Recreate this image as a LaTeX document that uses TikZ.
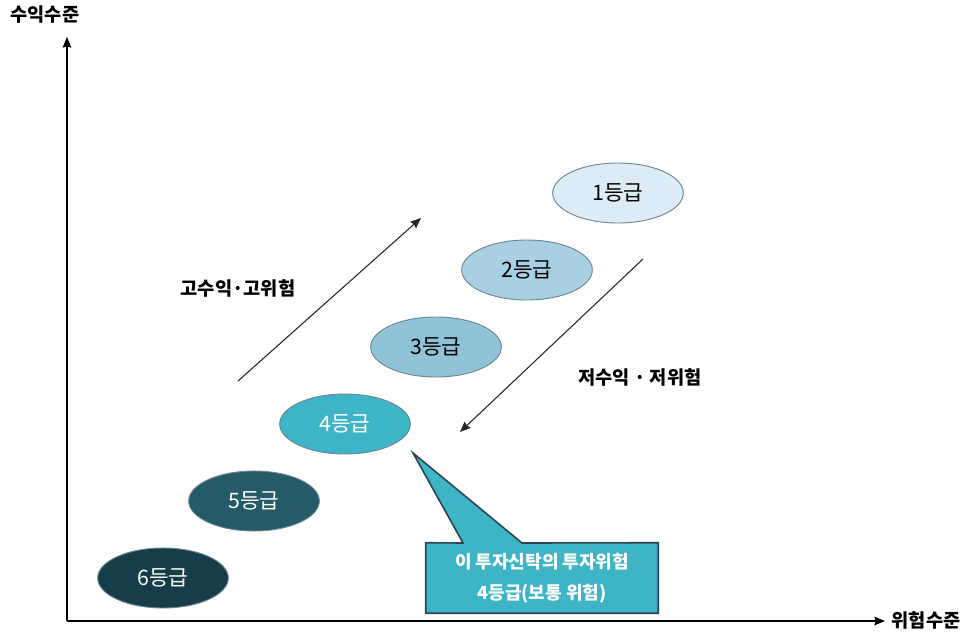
\documentclass[tikz,border=0pt]{standalone}
\usepackage{fontspec}
\setmainfont{Noto Sans CJK KR}
\usepackage{tikz}
\usetikzlibrary{arrows.meta,positioning,shapes.geometric,backgrounds}

\definecolor{gradeone}{HTML}{DCEBF5}
\definecolor{gradetwo}{HTML}{A9D0E2}
\definecolor{gradethree}{HTML}{90C3D7}
\definecolor{gradefour}{HTML}{3EB5C6}
\definecolor{gradefive}{HTML}{255B69}
\definecolor{gradesix}{HTML}{173D48}
\definecolor{rimgray}{HTML}{6A8793}
\definecolor{calloutrim}{HTML}{2B4650}

\begin{document}
\begin{tikzpicture}[x=0.75pt,y=-0.75pt,->,>={Stealth[length=8pt,width=6.5pt,inset=1pt]},
  grade/.style={ellipse,draw=rimgray,line width=0.7pt,on grid,minimum width=98pt,
    minimum height=45pt,inner sep=0pt,font=\fontsize{16}{18}\selectfont},
  axislabel/.style={font=\bfseries\fontsize{14}{16}\selectfont},
  axis/.style={line width=1pt,black},
  trend/.style={line width=0.8pt,black!85},
  calloutbox/.style={-,fill=gradefour,draw=calloutrim,line width=1.2pt}]
  \useasboundingbox (0,0) rectangle (970,635);

  \node [grade,fill=gradeone] (g1) at (618,193) {1등급};
  \node [grade,fill=gradetwo,below left=57.75pt and 68.25pt of g1] (g2) {2등급};
  \node [grade,fill=gradethree,below left=57.75pt and 68.25pt of g2] (g3) {3등급};
  \node [grade,fill=gradefour,text=white,below left=57.75pt and 68.25pt of g3] (g4) {4등급};
  \node [grade,fill=gradefive,text=white,below left=57.75pt and 68.25pt of g4] (g5) {5등급};
  \node [grade,fill=gradesix,text=white,below left=57.75pt and 68.25pt of g5] (g6) {6등급};

  % axes
  \coordinate (origin) at (67,621);
  \coordinate (ytip) at (67,37);
  \coordinate (xtip) at (885,621);
  \draw [axis] (origin) -- (ytip);
  \draw [axis] (origin) -- (xtip);
  \node [axislabel] (ylabel) at (45,15) {수익수준};
  \node [axislabel] (xlabel) at (926,620) {위험수준};

  % trends
  \coordinate (upstart) at (238,381);
  \coordinate (upend) at (421,218);
  \coordinate (downstart) at (643,259);
  \coordinate (downend) at (460,432);
  \draw [trend] (upstart) -- (upend);
  \draw [trend] (downstart) -- (downend);
  \node [axislabel] (highlabel) at (238,288) {고수익·고위험};
  \node [axislabel] (lowlabel) at (640,377) {저수익 · 저위험};

  % callout
  \node [text=white,align=center,minimum width=174pt,minimum height=52.5pt,
    font=\bfseries\fontsize{13.5}{23}\selectfont] (callout) at (542,578)
    {이 투자신탁의 투자위험\\4등급(보통 위험)};
  \coordinate (tip) at (413,453);
  \coordinate (baseleft) at (463,543);
  \coordinate (baseright) at (522,543);
  \begin{scope}[on background layer]
    \draw [calloutbox] (callout.north west) -- (baseleft) -- (tip) -- (baseright)
      -- (callout.north east) -- (callout.south east) -- (callout.south west) -- cycle;
  \end{scope}
\end{tikzpicture}
\end{document}
